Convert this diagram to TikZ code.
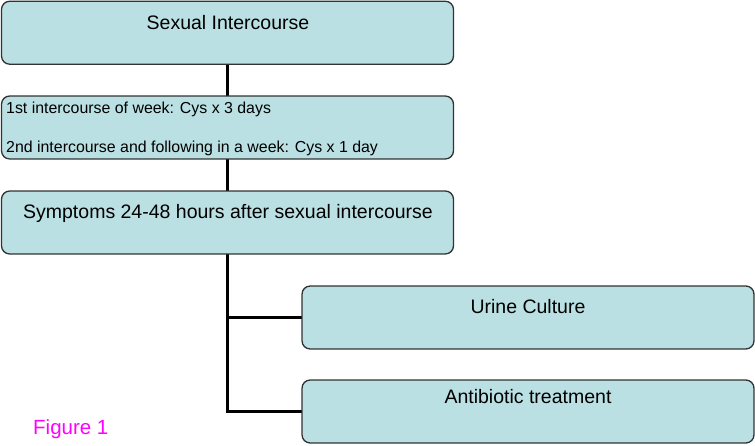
\documentclass[tikz,border=0pt]{standalone}
\usepackage{fontspec}
\setmainfont{Liberation Sans}
\definecolor{boxfill}{RGB}{186,224,227}
\definecolor{boxline}{RGB}{50,50,50}
\definecolor{figmag}{RGB}{255,0,255}
\begin{document}
\begin{tikzpicture}[x=1pt,y=-1pt,
  box/.style={draw=boxline,line width=1.3pt,fill=boxfill,rounded corners=8pt},
  conn/.style={draw=black,line width=3pt},
  anchorbox/.style={inner sep=0pt,minimum width=451.5pt,minimum height=62.5pt},
  bigtxt/.style={font=\fontsize{19.5}{22}\selectfont,anchor=base,inner sep=0pt},
  smalltxt/.style={font=\fontsize{15.9}{18}\selectfont,anchor=base west,inner sep=0pt}]
\useasboundingbox (0,0) rectangle (755,446);
% invisible frames of the boxes
\node[anchorbox] (sex) at (227.5,32.75) {};
\node[anchorbox] (mid) at (227.5,127.5) {};
\node[anchorbox] (sym) at (227.5,222.5) {};
\node[anchorbox] (uri) at (528,317.5) {};
\node[anchorbox] (ant) at (528,411.5) {};
% junction points
\coordinate (j1) at (sym.south |- uri.west);
\coordinate (j2) at (sym.south |- ant.west);
% connectors (behind boxes)
\draw[conn] (sex.south) -- (mid.north);
\draw[conn] (mid.south) -- (sym.north);
\draw[conn] (sym.south) -- (j2) -- (ant.west);
\draw[conn] (j1) -- (uri.west);
% box shapes
\draw[box] (sex.north west) rectangle (sex.south east);
\draw[box] (mid.north west) rectangle (mid.south east);
\draw[box] (sym.north west) rectangle (sym.south east);
\draw[box] (uri.north west) rectangle (uri.south east);
\draw[box] (ant.north west) rectangle (ant.south east);
% texts
\node[bigtxt] (t1) at (228,30) {Sexual Intercourse};
\node[smalltxt] (t2) at (6,114) {1st intercourse of week: Cys x 3 days};
\node[smalltxt] (t3) at (6,153) {2nd intercourse and following in a week: Cys x 1 day};
\node[bigtxt] (t4) at (228,219) {Symptoms 24-48 hours after sexual intercourse};
\node[bigtxt] (t5) at (528,314) {Urine Culture};
\node[bigtxt] (t6) at (528,403) {Antibiotic treatment};
\node[font=\fontsize{20.5}{24}\selectfont,anchor=base west,inner sep=0pt,text=figmag] (fig) at (33,434) {Figure 1};
\end{tikzpicture}
\end{document}
